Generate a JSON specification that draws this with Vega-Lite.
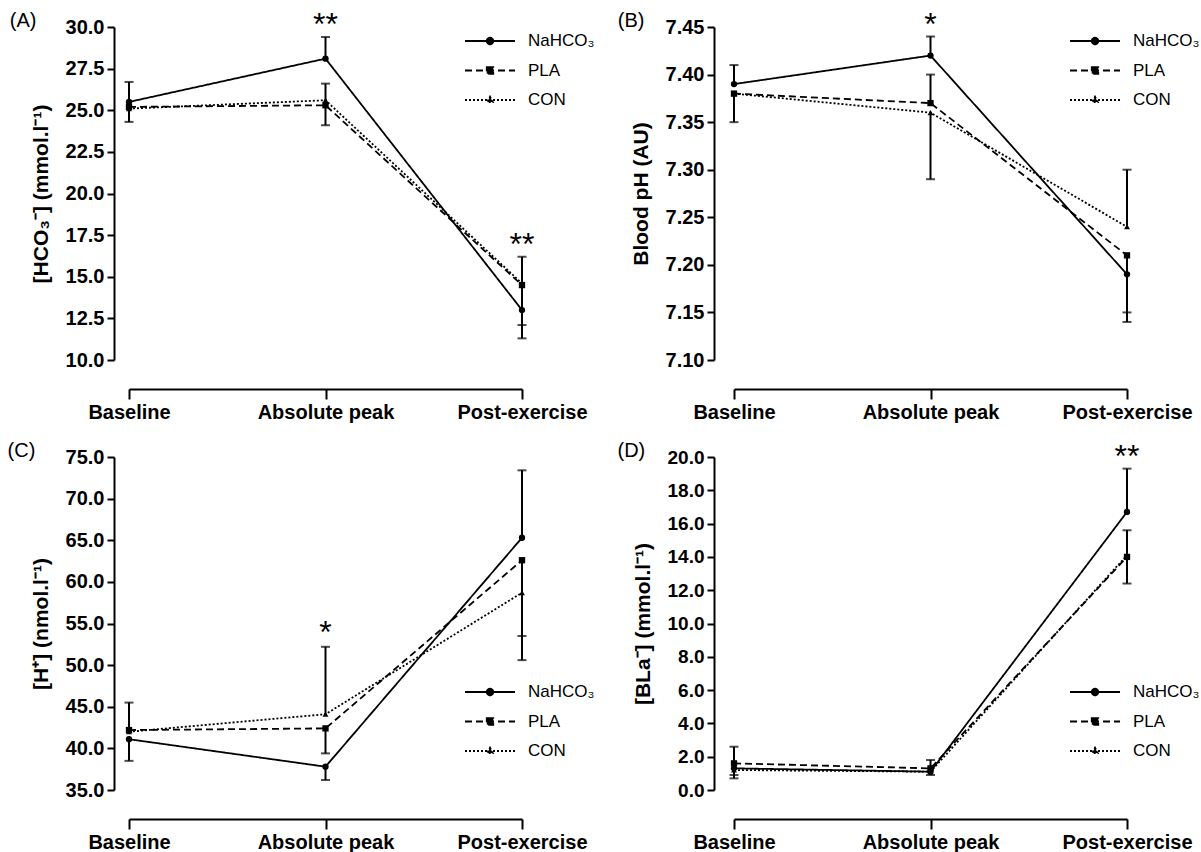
{
  "$schema": "https://vega.github.io/schema/vega-lite/v6.json",
  "background": "white",
  "padding": {"left": 7, "top": 8, "right": 2, "bottom": 2},
  "datasets": {
    "pts": [
      {"panel": "A", "time": "Baseline", "group": "NaHCO₃", "mean": 25.5},
      {"panel": "A", "time": "Baseline", "group": "PLA", "mean": 25.2},
      {"panel": "A", "time": "Baseline", "group": "CON", "mean": 25.1},
      {"panel": "A", "time": "Absolute peak", "group": "NaHCO₃", "mean": 28.1},
      {"panel": "A", "time": "Absolute peak", "group": "PLA", "mean": 25.3},
      {"panel": "A", "time": "Absolute peak", "group": "CON", "mean": 25.6},
      {"panel": "A", "time": "Post-exercise", "group": "NaHCO₃", "mean": 13.0},
      {"panel": "A", "time": "Post-exercise", "group": "PLA", "mean": 14.5},
      {"panel": "A", "time": "Post-exercise", "group": "CON", "mean": 14.6},
      {"panel": "B", "time": "Baseline", "group": "NaHCO₃", "mean": 7.39},
      {"panel": "B", "time": "Baseline", "group": "PLA", "mean": 7.38},
      {"panel": "B", "time": "Baseline", "group": "CON", "mean": 7.38},
      {"panel": "B", "time": "Absolute peak", "group": "NaHCO₃", "mean": 7.42},
      {"panel": "B", "time": "Absolute peak", "group": "PLA", "mean": 7.37},
      {"panel": "B", "time": "Absolute peak", "group": "CON", "mean": 7.36},
      {"panel": "B", "time": "Post-exercise", "group": "NaHCO₃", "mean": 7.19},
      {"panel": "B", "time": "Post-exercise", "group": "PLA", "mean": 7.21},
      {"panel": "B", "time": "Post-exercise", "group": "CON", "mean": 7.24},
      {"panel": "C", "time": "Baseline", "group": "NaHCO₃", "mean": 41.1},
      {"panel": "C", "time": "Baseline", "group": "PLA", "mean": 42.2},
      {"panel": "C", "time": "Baseline", "group": "CON", "mean": 42.0},
      {"panel": "C", "time": "Absolute peak", "group": "NaHCO₃", "mean": 37.8},
      {"panel": "C", "time": "Absolute peak", "group": "PLA", "mean": 42.4},
      {"panel": "C", "time": "Absolute peak", "group": "CON", "mean": 44.1},
      {"panel": "C", "time": "Post-exercise", "group": "NaHCO₃", "mean": 65.3},
      {"panel": "C", "time": "Post-exercise", "group": "PLA", "mean": 62.6},
      {"panel": "C", "time": "Post-exercise", "group": "CON", "mean": 58.7},
      {"panel": "D", "time": "Baseline", "group": "NaHCO₃", "mean": 1.3},
      {"panel": "D", "time": "Baseline", "group": "PLA", "mean": 1.6},
      {"panel": "D", "time": "Baseline", "group": "CON", "mean": 1.2},
      {"panel": "D", "time": "Absolute peak", "group": "NaHCO₃", "mean": 1.1},
      {"panel": "D", "time": "Absolute peak", "group": "PLA", "mean": 1.3},
      {"panel": "D", "time": "Absolute peak", "group": "CON", "mean": 1.1},
      {"panel": "D", "time": "Post-exercise", "group": "NaHCO₃", "mean": 16.7},
      {"panel": "D", "time": "Post-exercise", "group": "PLA", "mean": 14.0},
      {"panel": "D", "time": "Post-exercise", "group": "CON", "mean": 14.1}
    ],
    "err": [
      {"panel": "A", "time": "Baseline", "group": "NaHCO₃", "mean": 25.5, "end": 26.7},
      {"panel": "A", "time": "Baseline", "group": "PLA", "mean": 25.2, "end": 24.3},
      {"panel": "A", "time": "Absolute peak", "group": "NaHCO₃", "mean": 28.1, "end": 29.4},
      {"panel": "A", "time": "Absolute peak", "group": "CON", "mean": 25.6, "end": 26.6},
      {"panel": "A", "time": "Absolute peak", "group": "PLA", "mean": 25.3, "end": 24.1},
      {"panel": "A", "time": "Post-exercise", "group": "PLA", "mean": 14.5, "end": 16.2},
      {"panel": "A", "time": "Post-exercise", "group": "CON", "mean": 14.6, "end": 12.1},
      {"panel": "A", "time": "Post-exercise", "group": "NaHCO₃", "mean": 13.0, "end": 11.3},
      {"panel": "B", "time": "Baseline", "group": "NaHCO₃", "mean": 7.39, "end": 7.41},
      {"panel": "B", "time": "Baseline", "group": "PLA", "mean": 7.38, "end": 7.35},
      {"panel": "B", "time": "Absolute peak", "group": "NaHCO₃", "mean": 7.42, "end": 7.44},
      {"panel": "B", "time": "Absolute peak", "group": "PLA", "mean": 7.37, "end": 7.40},
      {"panel": "B", "time": "Absolute peak", "group": "CON", "mean": 7.36, "end": 7.29},
      {"panel": "B", "time": "Post-exercise", "group": "CON", "mean": 7.24, "end": 7.30},
      {"panel": "B", "time": "Post-exercise", "group": "PLA", "mean": 7.21, "end": 7.15},
      {"panel": "B", "time": "Post-exercise", "group": "NaHCO₃", "mean": 7.19, "end": 7.14},
      {"panel": "C", "time": "Baseline", "group": "PLA", "mean": 42.2, "end": 45.5},
      {"panel": "C", "time": "Baseline", "group": "NaHCO₃", "mean": 41.1, "end": 38.5},
      {"panel": "C", "time": "Absolute peak", "group": "CON", "mean": 44.1, "end": 52.2},
      {"panel": "C", "time": "Absolute peak", "group": "PLA", "mean": 42.4, "end": 39.4},
      {"panel": "C", "time": "Absolute peak", "group": "NaHCO₃", "mean": 37.8, "end": 36.2},
      {"panel": "C", "time": "Post-exercise", "group": "NaHCO₃", "mean": 65.3, "end": 73.4},
      {"panel": "C", "time": "Post-exercise", "group": "PLA", "mean": 62.6, "end": 53.5},
      {"panel": "C", "time": "Post-exercise", "group": "CON", "mean": 58.7, "end": 50.6},
      {"panel": "D", "time": "Baseline", "group": "PLA", "mean": 1.6, "end": 2.6},
      {"panel": "D", "time": "Baseline", "group": "NaHCO₃", "mean": 1.3, "end": 0.7},
      {"panel": "D", "time": "Baseline", "group": "CON", "mean": 1.2, "end": 0.9},
      {"panel": "D", "time": "Absolute peak", "group": "PLA", "mean": 1.3, "end": 1.8},
      {"panel": "D", "time": "Absolute peak", "group": "NaHCO₃", "mean": 1.1, "end": 0.9},
      {"panel": "D", "time": "Post-exercise", "group": "NaHCO₃", "mean": 16.7, "end": 19.3},
      {"panel": "D", "time": "Post-exercise", "group": "PLA", "mean": 14.0, "end": 15.6},
      {"panel": "D", "time": "Post-exercise", "group": "CON", "mean": 14.1, "end": 12.4}
    ],
    "sig": [
      {"panel": "A", "time": "Absolute peak", "label": "**", "y": 29.4},
      {"panel": "A", "time": "Post-exercise", "label": "**", "y": 16.2},
      {"panel": "B", "time": "Absolute peak", "label": "*", "y": 7.44},
      {"panel": "C", "time": "Absolute peak", "label": "*", "y": 52.2},
      {"panel": "D", "time": "Post-exercise", "label": "**", "y": 19.3}
    ]
  },
  "concat": [
    {
      "width": 393, "height": 333,
      "title": {"text": "(A)", "dx": 37},
      "layer": [
        {"data": {"name": "err"}, "transform": [{"filter": "datum.panel === 'A'"}],
         "mark": {"type": "rule", "color": "black", "strokeWidth": 2},
         "encoding": {"x": {"field": "time", "type": "nominal", "sort": ["Baseline", "Absolute peak", "Post-exercise"], "scale": {"type": "point", "padding": 0}, "title": null},
                      "y": {"field": "mean", "type": "quantitative", "scale": {"domain": [10, 30], "nice": false, "zero": false}, "axis": {"values": [10, 12.5, 15, 17.5, 20, 22.5, 25, 27.5, 30], "tickCount": 20, "format": ".1f", "labelOverlap": false, "title": "[HCO₃⁻] (mmol.l⁻¹)"}},
                      "y2": {"field": "end"}}},
        {"data": {"name": "err"}, "transform": [{"filter": "datum.panel === 'A'"}],
         "mark": {"type": "tick", "orient": "horizontal", "color": "black", "size": 9, "thickness": 2},
         "encoding": {"x": {"field": "time", "type": "nominal", "sort": ["Baseline", "Absolute peak", "Post-exercise"]},
                      "y": {"field": "end", "type": "quantitative"}}},
        {"data": {"name": "pts"}, "transform": [{"filter": "datum.panel === 'A'"}],
         "mark": {"type": "line", "color": "black", "strokeWidth": 1.8},
         "encoding": {"x": {"field": "time", "type": "nominal", "sort": ["Baseline", "Absolute peak", "Post-exercise"]},
                      "y": {"field": "mean", "type": "quantitative"},
                      "strokeDash": {"field": "group", "type": "nominal", "scale": {"domain": ["NaHCO₃", "PLA", "CON"], "range": [[1, 0], [7, 4], [2, 2]]},
                        "legend": {"legendX": 335, "legendY": 5,
                          "encode": {"symbols": {"update": {"fill": {"value": "black"}, "stroke": {"value": "black"}, "strokeWidth": {"value": 1.8},
                            "shape": {"signal": "datum.value === 'PLA' ? 'M-1,0H1M-0.13,-0.13H0.13V0.13H-0.13Z' : datum.value === 'CON' ? 'M-1,0H1M0,-0.13L0.11,0.08H-0.11Z' : 'M-1,0H1M-0.13,0A0.13,0.13,0,1,1,0.13,0A0.13,0.13,0,1,1,-0.13,0Z'"}}}}}}}},
        {"data": {"name": "pts"}, "transform": [{"filter": "datum.panel === 'A' && datum.group === 'NaHCO₃'"}],
         "mark": {"type": "point", "shape": "circle", "filled": true, "color": "black", "opacity": 1, "size": 40},
         "encoding": {"x": {"field": "time", "type": "nominal", "sort": ["Baseline", "Absolute peak", "Post-exercise"]},
                      "y": {"field": "mean", "type": "quantitative"}}},
        {"data": {"name": "pts"}, "transform": [{"filter": "datum.panel === 'A' && datum.group === 'PLA'"}],
         "mark": {"type": "point", "shape": "square", "filled": true, "color": "black", "opacity": 1, "size": 40},
         "encoding": {"x": {"field": "time", "type": "nominal", "sort": ["Baseline", "Absolute peak", "Post-exercise"]},
                      "y": {"field": "mean", "type": "quantitative"}}},
        {"data": {"name": "pts"}, "transform": [{"filter": "datum.panel === 'A' && datum.group === 'CON'"}],
         "mark": {"type": "point", "shape": "triangle-up", "filled": true, "color": "black", "opacity": 1, "size": 35},
         "encoding": {"x": {"field": "time", "type": "nominal", "sort": ["Baseline", "Absolute peak", "Post-exercise"]},
                      "y": {"field": "mean", "type": "quantitative"}}},
        {"data": {"name": "sig"}, "transform": [{"filter": "datum.panel === 'A'"}],
         "mark": {"type": "text", "color": "black", "fontSize": 32, "baseline": "alphabetic", "dy": -2},
         "encoding": {"x": {"field": "time", "type": "nominal", "sort": ["Baseline", "Absolute peak", "Post-exercise"]},
                      "y": {"field": "y", "type": "quantitative"},
                      "text": {"field": "label"}}}
      ]
    },
    {
      "width": 393, "height": 333,
      "title": {"text": "(B)", "dx": 45},
      "layer": [
        {"data": {"name": "err"}, "transform": [{"filter": "datum.panel === 'B'"}],
         "mark": {"type": "rule", "color": "black", "strokeWidth": 2},
         "encoding": {"x": {"field": "time", "type": "nominal", "sort": ["Baseline", "Absolute peak", "Post-exercise"], "scale": {"type": "point", "padding": 0}, "title": null},
                      "y": {"field": "mean", "type": "quantitative", "scale": {"domain": [7.1, 7.45], "nice": false, "zero": false}, "axis": {"values": [7.1, 7.15, 7.2, 7.25, 7.3, 7.35, 7.4, 7.45], "tickCount": 20, "format": ".2f", "labelOverlap": false, "title": "Blood pH (AU)", "offset": 20}},
                      "y2": {"field": "end"}}},
        {"data": {"name": "err"}, "transform": [{"filter": "datum.panel === 'B'"}],
         "mark": {"type": "tick", "orient": "horizontal", "color": "black", "size": 9, "thickness": 2},
         "encoding": {"x": {"field": "time", "type": "nominal", "sort": ["Baseline", "Absolute peak", "Post-exercise"]},
                      "y": {"field": "end", "type": "quantitative"}}},
        {"data": {"name": "pts"}, "transform": [{"filter": "datum.panel === 'B'"}],
         "mark": {"type": "line", "color": "black", "strokeWidth": 1.8},
         "encoding": {"x": {"field": "time", "type": "nominal", "sort": ["Baseline", "Absolute peak", "Post-exercise"]},
                      "y": {"field": "mean", "type": "quantitative"},
                      "strokeDash": {"field": "group", "type": "nominal", "scale": {"domain": ["NaHCO₃", "PLA", "CON"], "range": [[1, 0], [7, 4], [2, 2]]},
                        "legend": {"legendX": 335, "legendY": 5,
                          "encode": {"symbols": {"update": {"fill": {"value": "black"}, "stroke": {"value": "black"}, "strokeWidth": {"value": 1.8},
                            "shape": {"signal": "datum.value === 'PLA' ? 'M-1,0H1M-0.13,-0.13H0.13V0.13H-0.13Z' : datum.value === 'CON' ? 'M-1,0H1M0,-0.13L0.11,0.08H-0.11Z' : 'M-1,0H1M-0.13,0A0.13,0.13,0,1,1,0.13,0A0.13,0.13,0,1,1,-0.13,0Z'"}}}}}}}},
        {"data": {"name": "pts"}, "transform": [{"filter": "datum.panel === 'B' && datum.group === 'NaHCO₃'"}],
         "mark": {"type": "point", "shape": "circle", "filled": true, "color": "black", "opacity": 1, "size": 40},
         "encoding": {"x": {"field": "time", "type": "nominal", "sort": ["Baseline", "Absolute peak", "Post-exercise"]},
                      "y": {"field": "mean", "type": "quantitative"}}},
        {"data": {"name": "pts"}, "transform": [{"filter": "datum.panel === 'B' && datum.group === 'PLA'"}],
         "mark": {"type": "point", "shape": "square", "filled": true, "color": "black", "opacity": 1, "size": 40},
         "encoding": {"x": {"field": "time", "type": "nominal", "sort": ["Baseline", "Absolute peak", "Post-exercise"]},
                      "y": {"field": "mean", "type": "quantitative"}}},
        {"data": {"name": "pts"}, "transform": [{"filter": "datum.panel === 'B' && datum.group === 'CON'"}],
         "mark": {"type": "point", "shape": "triangle-up", "filled": true, "color": "black", "opacity": 1, "size": 35},
         "encoding": {"x": {"field": "time", "type": "nominal", "sort": ["Baseline", "Absolute peak", "Post-exercise"]},
                      "y": {"field": "mean", "type": "quantitative"}}},
        {"data": {"name": "sig"}, "transform": [{"filter": "datum.panel === 'B'"}],
         "mark": {"type": "text", "color": "black", "fontSize": 32, "baseline": "alphabetic", "dy": -2},
         "encoding": {"x": {"field": "time", "type": "nominal", "sort": ["Baseline", "Absolute peak", "Post-exercise"]},
                      "y": {"field": "y", "type": "quantitative"},
                      "text": {"field": "label"}}}
      ]
    },
    {
      "width": 393, "height": 333,
      "title": {"text": "(C)", "dx": 37},
      "layer": [
        {"data": {"name": "err"}, "transform": [{"filter": "datum.panel === 'C'"}],
         "mark": {"type": "rule", "color": "black", "strokeWidth": 2},
         "encoding": {"x": {"field": "time", "type": "nominal", "sort": ["Baseline", "Absolute peak", "Post-exercise"], "scale": {"type": "point", "padding": 0}, "title": null},
                      "y": {"field": "mean", "type": "quantitative", "scale": {"domain": [35, 75], "nice": false, "zero": false}, "axis": {"values": [35, 40, 45, 50, 55, 60, 65, 70, 75], "tickCount": 20, "format": ".1f", "labelOverlap": false, "title": "[H⁺] (nmol.l⁻¹)"}},
                      "y2": {"field": "end"}}},
        {"data": {"name": "err"}, "transform": [{"filter": "datum.panel === 'C'"}],
         "mark": {"type": "tick", "orient": "horizontal", "color": "black", "size": 9, "thickness": 2},
         "encoding": {"x": {"field": "time", "type": "nominal", "sort": ["Baseline", "Absolute peak", "Post-exercise"]},
                      "y": {"field": "end", "type": "quantitative"}}},
        {"data": {"name": "pts"}, "transform": [{"filter": "datum.panel === 'C'"}],
         "mark": {"type": "line", "color": "black", "strokeWidth": 1.8},
         "encoding": {"x": {"field": "time", "type": "nominal", "sort": ["Baseline", "Absolute peak", "Post-exercise"]},
                      "y": {"field": "mean", "type": "quantitative"},
                      "strokeDash": {"field": "group", "type": "nominal", "scale": {"domain": ["NaHCO₃", "PLA", "CON"], "range": [[1, 0], [7, 4], [2, 2]]},
                        "legend": {"legendX": 335, "legendY": 226,
                          "encode": {"symbols": {"update": {"fill": {"value": "black"}, "stroke": {"value": "black"}, "strokeWidth": {"value": 1.8},
                            "shape": {"signal": "datum.value === 'PLA' ? 'M-1,0H1M-0.13,-0.13H0.13V0.13H-0.13Z' : datum.value === 'CON' ? 'M-1,0H1M0,-0.13L0.11,0.08H-0.11Z' : 'M-1,0H1M-0.13,0A0.13,0.13,0,1,1,0.13,0A0.13,0.13,0,1,1,-0.13,0Z'"}}}}}}}},
        {"data": {"name": "pts"}, "transform": [{"filter": "datum.panel === 'C' && datum.group === 'NaHCO₃'"}],
         "mark": {"type": "point", "shape": "circle", "filled": true, "color": "black", "opacity": 1, "size": 40},
         "encoding": {"x": {"field": "time", "type": "nominal", "sort": ["Baseline", "Absolute peak", "Post-exercise"]},
                      "y": {"field": "mean", "type": "quantitative"}}},
        {"data": {"name": "pts"}, "transform": [{"filter": "datum.panel === 'C' && datum.group === 'PLA'"}],
         "mark": {"type": "point", "shape": "square", "filled": true, "color": "black", "opacity": 1, "size": 40},
         "encoding": {"x": {"field": "time", "type": "nominal", "sort": ["Baseline", "Absolute peak", "Post-exercise"]},
                      "y": {"field": "mean", "type": "quantitative"}}},
        {"data": {"name": "pts"}, "transform": [{"filter": "datum.panel === 'C' && datum.group === 'CON'"}],
         "mark": {"type": "point", "shape": "triangle-up", "filled": true, "color": "black", "opacity": 1, "size": 35},
         "encoding": {"x": {"field": "time", "type": "nominal", "sort": ["Baseline", "Absolute peak", "Post-exercise"]},
                      "y": {"field": "mean", "type": "quantitative"}}},
        {"data": {"name": "sig"}, "transform": [{"filter": "datum.panel === 'C'"}],
         "mark": {"type": "text", "color": "black", "fontSize": 32, "baseline": "alphabetic", "dy": -4},
         "encoding": {"x": {"field": "time", "type": "nominal", "sort": ["Baseline", "Absolute peak", "Post-exercise"]},
                      "y": {"field": "y", "type": "quantitative"},
                      "text": {"field": "label"}}}
      ]
    },
    {
      "width": 393, "height": 333,
      "title": {"text": "(D)", "dx": 45},
      "layer": [
        {"data": {"name": "err"}, "transform": [{"filter": "datum.panel === 'D'"}],
         "mark": {"type": "rule", "color": "black", "strokeWidth": 2},
         "encoding": {"x": {"field": "time", "type": "nominal", "sort": ["Baseline", "Absolute peak", "Post-exercise"], "scale": {"type": "point", "padding": 0}, "title": null},
                      "y": {"field": "mean", "type": "quantitative", "scale": {"domain": [0, 20], "nice": false, "zero": false}, "axis": {"values": [0, 2, 4, 6, 8, 10, 12, 14, 16, 18, 20], "tickCount": 20, "format": ".1f", "labelOverlap": false, "labelFontSize": 19, "title": "[BLa⁻] (mmol.l⁻¹)", "offset": 20}},
                      "y2": {"field": "end"}}},
        {"data": {"name": "err"}, "transform": [{"filter": "datum.panel === 'D'"}],
         "mark": {"type": "tick", "orient": "horizontal", "color": "black", "size": 9, "thickness": 2},
         "encoding": {"x": {"field": "time", "type": "nominal", "sort": ["Baseline", "Absolute peak", "Post-exercise"]},
                      "y": {"field": "end", "type": "quantitative"}}},
        {"data": {"name": "pts"}, "transform": [{"filter": "datum.panel === 'D'"}],
         "mark": {"type": "line", "color": "black", "strokeWidth": 1.8},
         "encoding": {"x": {"field": "time", "type": "nominal", "sort": ["Baseline", "Absolute peak", "Post-exercise"]},
                      "y": {"field": "mean", "type": "quantitative"},
                      "strokeDash": {"field": "group", "type": "nominal", "scale": {"domain": ["NaHCO₃", "PLA", "CON"], "range": [[1, 0], [7, 4], [2, 2]]},
                        "legend": {"legendX": 335, "legendY": 226,
                          "encode": {"symbols": {"update": {"fill": {"value": "black"}, "stroke": {"value": "black"}, "strokeWidth": {"value": 1.8},
                            "shape": {"signal": "datum.value === 'PLA' ? 'M-1,0H1M-0.13,-0.13H0.13V0.13H-0.13Z' : datum.value === 'CON' ? 'M-1,0H1M0,-0.13L0.11,0.08H-0.11Z' : 'M-1,0H1M-0.13,0A0.13,0.13,0,1,1,0.13,0A0.13,0.13,0,1,1,-0.13,0Z'"}}}}}}}},
        {"data": {"name": "pts"}, "transform": [{"filter": "datum.panel === 'D' && datum.group === 'NaHCO₃'"}],
         "mark": {"type": "point", "shape": "circle", "filled": true, "color": "black", "opacity": 1, "size": 40},
         "encoding": {"x": {"field": "time", "type": "nominal", "sort": ["Baseline", "Absolute peak", "Post-exercise"]},
                      "y": {"field": "mean", "type": "quantitative"}}},
        {"data": {"name": "pts"}, "transform": [{"filter": "datum.panel === 'D' && datum.group === 'PLA'"}],
         "mark": {"type": "point", "shape": "square", "filled": true, "color": "black", "opacity": 1, "size": 40},
         "encoding": {"x": {"field": "time", "type": "nominal", "sort": ["Baseline", "Absolute peak", "Post-exercise"]},
                      "y": {"field": "mean", "type": "quantitative"}}},
        {"data": {"name": "pts"}, "transform": [{"filter": "datum.panel === 'D' && datum.group === 'CON'"}],
         "mark": {"type": "point", "shape": "triangle-up", "filled": true, "color": "black", "opacity": 1, "size": 35},
         "encoding": {"x": {"field": "time", "type": "nominal", "sort": ["Baseline", "Absolute peak", "Post-exercise"]},
                      "y": {"field": "mean", "type": "quantitative"}}},
        {"data": {"name": "sig"}, "transform": [{"filter": "datum.panel === 'D'"}],
         "mark": {"type": "text", "color": "black", "fontSize": 32, "baseline": "alphabetic", "dy": -2},
         "encoding": {"x": {"field": "time", "type": "nominal", "sort": ["Baseline", "Absolute peak", "Post-exercise"]},
                      "y": {"field": "y", "type": "quantitative"},
                      "text": {"field": "label"}}}
      ]
    }
  ],
  "columns": 2,
  "spacing": {"row": 97, "column": 212},
  "bounds": "flush",
  "resolve": {"scale": {"strokeDash": "independent"}, "legend": {"strokeDash": "independent"}},
  "config": {
    "view": {"stroke": null},
    "font": "Liberation Sans",
    "title": {"orient": "left", "anchor": "end", "frame": "group", "angle": 0, "align": "left", "baseline": "middle", "fontSize": 20, "fontWeight": "normal", "color": "black", "font": "Liberation Sans", "dy": -16, "offset": 0},
    "axis": {"grid": false, "domainColor": "black", "domainWidth": 2, "tickColor": "black", "tickWidth": 2, "labelColor": "black", "labelFont": "Liberation Sans", "labelFontWeight": "bold", "titleFont": "Liberation Sans", "titleFontWeight": "bold", "titleColor": "black", "labelOverlap": false},
    "axisY": {"tickSize": 7, "labelFontSize": 20, "titleFontSize": 21, "offset": 15, "labelPadding": 3, "titlePadding": 14},
    "axisX": {"tickSize": 10, "labelFontSize": 20, "offset": 29, "labelAngle": 0, "labelPadding": 3},
    "legend": {"orient": "none", "title": null, "labelFont": "Liberation Sans", "labelFontSize": 17, "labelColor": "black", "symbolSize": 2500, "clipHeight": 18, "rowPadding": 11.5, "labelOffset": 12, "symbolStrokeWidth": 1.8, "symbolStrokeColor": "black", "symbolFillColor": "black", "padding": 0}
  }
}
